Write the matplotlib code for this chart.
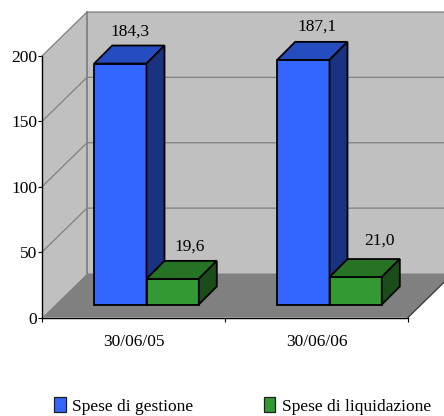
import matplotlib
matplotlib.use("Agg")
import matplotlib.pyplot as plt
from matplotlib.patches import Polygon, Patch

# ----------------------------
# DATA
# ----------------------------
dates = ["30/06/05", "30/06/06"]
gestione = [184.3, 187.1]
liquidazione = [19.6, 21.0]
value_labels_g = ["184,3", "187,1"]
value_labels_l = ["19,6", "21,0"]
y_ticks = [0, 50, 100, 150, 200]
series_names = ["Spese di gestione", "Spese di liquidazione"]

# ----------------------------
# CONFIG
# ----------------------------
W, H = 444, 416
ax_left, ax_right = 42, 408     # front floor edge, px
ax_bottom, ax_top = 317.5, 56   # value 0 and value 200, px from top

wall_depth_x = 45   # px, depth of the whole box
wall_depth_y = 44
bar_depth = 18      # px, depth of one bar
bar_inset = 13      # px, bars sit this far behind the front edge
bar_width = 52.3    # px

blue = ("#3366FF", "#264DBF", "#1A3380")    # front, top, side
green = ("#339933", "#267326", "#1A4D1A")
wall_color = "#C0C0C0"
floor_color = "#808080"
grid_color = "#808080"

plt.rcParams["font.family"] = ["Liberation Serif", "DejaVu Serif"]
fs = 12.5

fig = plt.figure(figsize=(W / 100, H / 100), dpi=100)
ax = fig.add_axes([ax_left / W, 1 - ax_bottom / H,
                   (ax_right - ax_left) / W, (ax_bottom - ax_top) / H])
ax.set_xlim(0, len(dates))
ax.set_ylim(0, 200)
ax.patch.set_visible(False)

# px -> data unit factors
ux = len(dates) / (ax_right - ax_left)
uy = 200 / (ax_bottom - ax_top)


def poly(pts, fc, ec="none", lw=0.0, z=1):
    ax.add_patch(Polygon(pts, closed=True, facecolor=fc, edgecolor=ec, linewidth=lw,
                         joinstyle="miter", clip_on=False, zorder=z))


def bar3d(x0, val, colors):
    """One box: x0 in category units, val in chart units, front face set back by bar_inset."""
    x0 = x0 + bar_inset * ux
    x1 = x0 + bar_width * ux
    y0 = bar_inset * uy
    y1 = y0 + val
    dx, dy = bar_depth * ux, bar_depth * uy
    poly([(x0, y0), (x1, y0), (x1, y1), (x0, y1)], colors[0], "black", 1.3, z=5)
    poly([(x0, y1), (x1, y1), (x1 + dx, y1 + dy), (x0 + dx, y1 + dy)], colors[1], "black", 1.3, z=5)
    poly([(x1, y0), (x1 + dx, y0 + dy), (x1 + dx, y1 + dy), (x1, y1)], colors[2], "black", 1.3, z=5)
    return (x0 + x1) / 2 + dx / 2, y1 + dy


# ----------------------------
# Walls and floor
# ----------------------------
n = len(dates)
dx_w, dy_w = wall_depth_x * ux, wall_depth_y * uy
poly([(dx_w, dy_w), (n + dx_w, dy_w), (n + dx_w, 200 + dy_w), (dx_w, 200 + dy_w)], wall_color)
poly([(0, 0), (dx_w, dy_w), (dx_w, 200 + dy_w), (0, 200)], wall_color)
poly([(0, 0), (n, 0), (n + dx_w, dy_w), (dx_w, dy_w)], floor_color)

for v in y_ticks[1:]:
    ax.plot([0, dx_w, n + dx_w], [v, v + dy_w, v + dy_w], color=grid_color, lw=0.9,
            clip_on=False, zorder=2)
ax.plot([dx_w, dx_w], [dy_w, 200 + dy_w], color=grid_color, lw=1.3, clip_on=False, zorder=2)
ax.plot([n, n + dx_w], [0, dy_w], color="#404040", lw=1.0, clip_on=False, zorder=2)

# ----------------------------
# Bars and value labels
# ----------------------------
# label nudges in px, the renderer did not centre them on the bars
nudge_g = [(1, 14), (5, 15)]
nudge_l = [(8, 14), (15, 18)]
group_gap = (1 - 2 * bar_width * ux) / 2

for i in range(n):
    cx, top = bar3d(i + group_gap, gestione[i], blue)
    ax.text(cx + nudge_g[i][0] * ux, top + nudge_g[i][1] * uy, value_labels_g[i],
            ha="center", va="center", fontsize=fs, color="black", zorder=6)
    cx, top = bar3d(i + group_gap + bar_width * ux, liquidazione[i], green)
    ax.text(cx + nudge_l[i][0] * ux, top + nudge_l[i][1] * uy, value_labels_l[i],
            ha="center", va="center", fontsize=fs, color="black", zorder=6)

# ----------------------------
# Axes
# ----------------------------
for side in ("top", "right"):
    ax.spines[side].set_visible(False)
for side in ("left", "bottom"):
    ax.spines[side].set_linewidth(1.0)
    ax.spines[side].set_zorder(4)

ax.set_yticks(y_ticks)
ax.set_yticklabels([str(t) for t in y_ticks], fontsize=fs)
ax.set_xticks(range(n + 1))
ax.set_xticklabels([])
ax.set_xticks([i + 0.5 for i in range(n)], labels=dates, minor=True, fontsize=fs)
ax.tick_params(axis="x", which="major", length=3, width=0.8)
ax.tick_params(axis="x", which="minor", length=0, pad=12)
ax.tick_params(axis="y", length=3, width=0.8, pad=0.5)

# ----------------------------
# Legend
# ----------------------------
handles = [Patch(facecolor=blue[0], edgecolor="#202020", linewidth=0.9),
           Patch(facecolor=green[0], edgecolor="#202020", linewidth=0.9)]
fig.legend(handles, series_names, loc="lower left", bbox_to_anchor=(51 / W, -2 / H),
           ncol=2, frameon=False, fontsize=fs, handlelength=0.65, handleheight=1.0,
           handletextpad=0.35, columnspacing=4.1, borderpad=0.2, borderaxespad=0)

fig.savefig("out.png", dpi=100)
